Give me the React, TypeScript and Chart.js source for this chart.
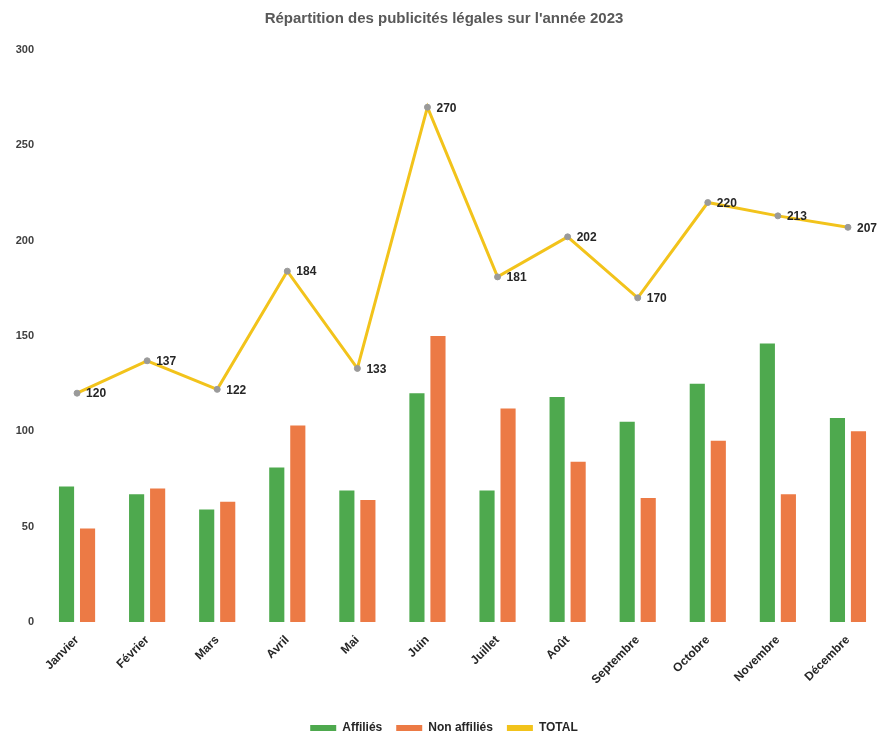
import React, { useEffect, useRef } from "react";
import { Chart, registerables } from "chart.js";

Chart.register(...registerables);

const months = ["Janvier", "Février", "Mars", "Avril", "Mai", "Juin", "Juillet", "Août", "Septembre", "Octobre", "Novembre", "Décembre"];
const affilies = [71, 67, 59, 81, 69, 120, 69, 118, 105, 125, 146, 107];
const nonAffilies = [49, 70, 63, 103, 64, 150, 112, 84, 65, 95, 67, 100];
const totals = [120, 137, 122, 184, 133, 270, 181, 202, 170, 220, 213, 207];
const yTicks = [0, 50, 100, 150, 200, 250, 300];
const title = "Répartition des publicités légales sur l'année 2023";

const FONT = "'Liberation Sans', Arial, sans-serif";

const lineLabels = {
  id: "lineLabels",
  afterDatasetsDraw(chart: any) {
    const ctx = chart.ctx;
    const idx = chart.data.datasets.findIndex((d: any) => d.type === "line");
    if (idx < 0) return;
    const meta = chart.getDatasetMeta(idx);
    ctx.save();
    ctx.font = `bold 12px ${FONT}`;
    ctx.fillStyle = "#262626";
    ctx.textAlign = "left";
    ctx.textBaseline = "middle";
    meta.data.forEach((pt: any, i: number) => {
      ctx.fillText(String(chart.data.datasets[idx].data[i]), pt.x + 9, pt.y + 1);
    });
    ctx.restore();
  },
};

export default function App() {
  const ref = useRef<HTMLCanvasElement>(null);
  useEffect(() => {
    document.body.style.margin = "0";
    const chart = new Chart(ref.current!, {
      type: "bar",
      data: {
        labels: months,
        datasets: [
          {
            type: "line",
            label: "TOTAL",
            data: totals,
            borderColor: "#f2c31b",
            backgroundColor: "#a0a0a0",
            borderWidth: 3,
            pointRadius: 3,
            pointBackgroundColor: "#9a9a9a",
            pointBorderColor: "#9a9a9a",
            pointBorderWidth: 1,
            order: 0,
          } as any,
          {
            type: "bar",
            label: "Affiliés",
            data: affilies,
            backgroundColor: "#4ea94e",
            categoryPercentage: 0.6,
            barPercentage: 0.72,
            order: 1,
          },
          {
            type: "bar",
            label: "Non affiliés",
            data: nonAffilies,
            backgroundColor: "#ec7a45",
            categoryPercentage: 0.6,
            barPercentage: 0.72,
            order: 1,
          },
        ],
      },
      options: {
        responsive: true,
        maintainAspectRatio: false,
        animation: false,
        layout: { padding: { left: 4, right: 4, top: 4, bottom: -5 } },
        plugins: {
          title: {
            display: true,
            text: title,
            color: "#595959",
            font: { family: FONT, size: 15, weight: "bold" },
            padding: { top: 6, bottom: 22 },
          },
          legend: {
            position: "bottom",
            labels: {
              color: "#262626",
              font: { family: FONT, size: 12, weight: "bold" },
              boxWidth: 26,
              boxHeight: 6,
              padding: 14,
              generateLabels: (chart: any) => {
                const ds = chart.data.datasets;
                const order = [1, 2, 0];
                return order.map((i) => ({
                  text: ds[i].label,
                  fillStyle: i === 0 ? "#f2c31b" : ds[i].backgroundColor,
                  strokeStyle: i === 0 ? "#f2c31b" : ds[i].backgroundColor,
                  lineWidth: 0,
                  hidden: false,
                  datasetIndex: i,
                  fontColor: "#262626",
                }));
              },
            },
          },
          tooltip: { enabled: false },
        },
        scales: {
          x: {
            grid: { display: false },
            border: { display: false },
            afterFit: (axis: any) => {
              axis.height += 18;
            },
            ticks: {
              color: "#262626",
              font: { family: FONT, size: 12, weight: "bold" },
              maxRotation: 45,
              minRotation: 45,
            },
          },
          y: {
            min: 0,
            max: 300,
            grid: { display: false },
            border: { display: false },
            afterBuildTicks: (axis: any) => {
              axis.ticks = yTicks.map((v) => ({ value: v }));
            },
            afterFit: (axis: any) => {
              axis.width = 38;
            },
            ticks: {
              color: "#404040",
              font: { family: FONT, size: 11, weight: "bold" },
              padding: 0,
            },
          },
        },
      },
      plugins: [lineLabels],
    });
    return () => chart.destroy();
  }, []);
  return (
    <div style={{ width: 888, height: 739, position: "relative" }}>
      <canvas ref={ref} />
    </div>
  );
}
